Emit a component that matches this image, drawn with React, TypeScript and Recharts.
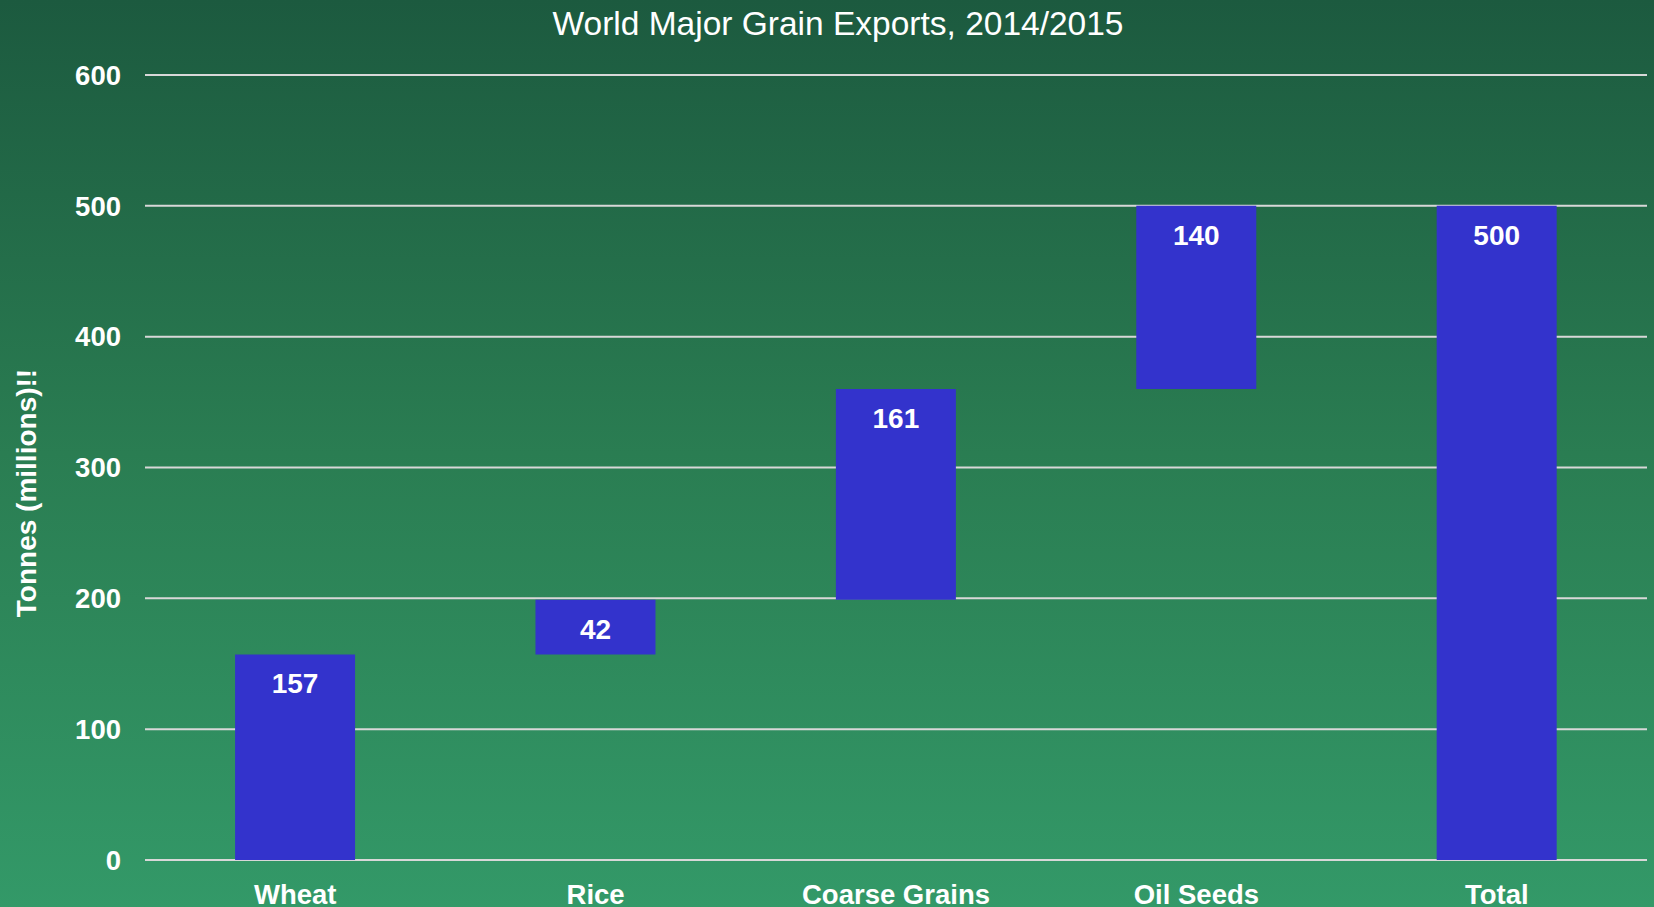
import { Bar, BarChart, CartesianGrid, LabelList, XAxis, YAxis } from "recharts";

const categories = ["Wheat", "Rice", "Coarse Grains", "Oil Seeds", "Total"];
// waterfall: invisible offset + visible step
const offsets = [0, 157, 199, 360, 0];
const amounts = [157, 42, 161, 140, 500];
const yTicks = [0, 100, 200, 300, 400, 500, 600];

const FONT = '"Liberation Sans", Arial, sans-serif';
const W = 1654;
const H = 907;

const data = categories.map((name, i) => ({
  name,
  offset: offsets[i],
  amount: amounts[i],
}));

function AxisTitle() {
  return (
    <text
      x={36}
      y={493}
      transform="rotate(-90, 36, 493)"
      textAnchor="middle"
      fill="#ffffff"
      fontFamily={FONT}
      fontWeight="bold"
      fontSize={28}
    >
      Tonnes (millions)!!
    </text>
  );
}

export default function App() {
  return (
    <div
      style={{
        position: "absolute",
        left: 0,
        top: 0,
        width: W,
        height: H,
        background: "linear-gradient(to bottom, #1c5a3f 0%, #2a7d52 50%, #339968 100%)",
        fontFamily: FONT,
        overflow: "hidden",
      }}
    >
      <svg
        width={W}
        height={50}
        style={{ position: "absolute", left: 0, top: 0 }}
      >
        <text
          x={838}
          y={35}
          textAnchor="middle"
          fill="#ffffff"
          fontFamily={FONT}
          fontSize={33.5}
        >
          World Major Grain Exports, 2014/2015
        </text>
      </svg>
      <BarChart
        width={W}
        height={H}
        data={data}
        margin={{ top: 75, right: 7, bottom: 0, left: 0 }}
        barCategoryGap="20%"
        style={{ position: "absolute", left: 0, top: 0 }}
      >
        <CartesianGrid
          vertical={false}
          stroke="#d8d8d8"
          strokeWidth={2}
        />
        <XAxis
          dataKey="name"
          height={47}
          axisLine={false}
          tickLine={false}
          tickSize={6}
          tickMargin={18}
          interval={0}
          tick={{
            fill: "#ffffff",
            fontSize: 27.5,
            fontWeight: "bold",
            fontFamily: FONT,
          }}
        />
        <YAxis
          width={145}
          domain={[0, 600]}
          ticks={yTicks}
          axisLine={false}
          tickLine={false}
          tickSize={6}
          tickMargin={18}
          tick={{
            fill: "#ffffff",
            fontSize: 27.5,
            fontWeight: "bold",
            fontFamily: FONT,
          }}
          label={{ content: () => <AxisTitle /> }}
        />
        <Bar
          dataKey="offset"
          stackId="w"
          fill="transparent"
          isAnimationActive={false}
        />
        <Bar
          dataKey="amount"
          stackId="w"
          fill="#3333cc"
          maxBarSize={120}
          isAnimationActive={false}
        >
          <LabelList
            dataKey="amount"
            position="insideTop"
            offset={19}
            fill="#ffffff"
            fontSize={28}
            fontWeight="bold"
            fontFamily={FONT}
          />
        </Bar>
      </BarChart>
    </div>
  );
}
